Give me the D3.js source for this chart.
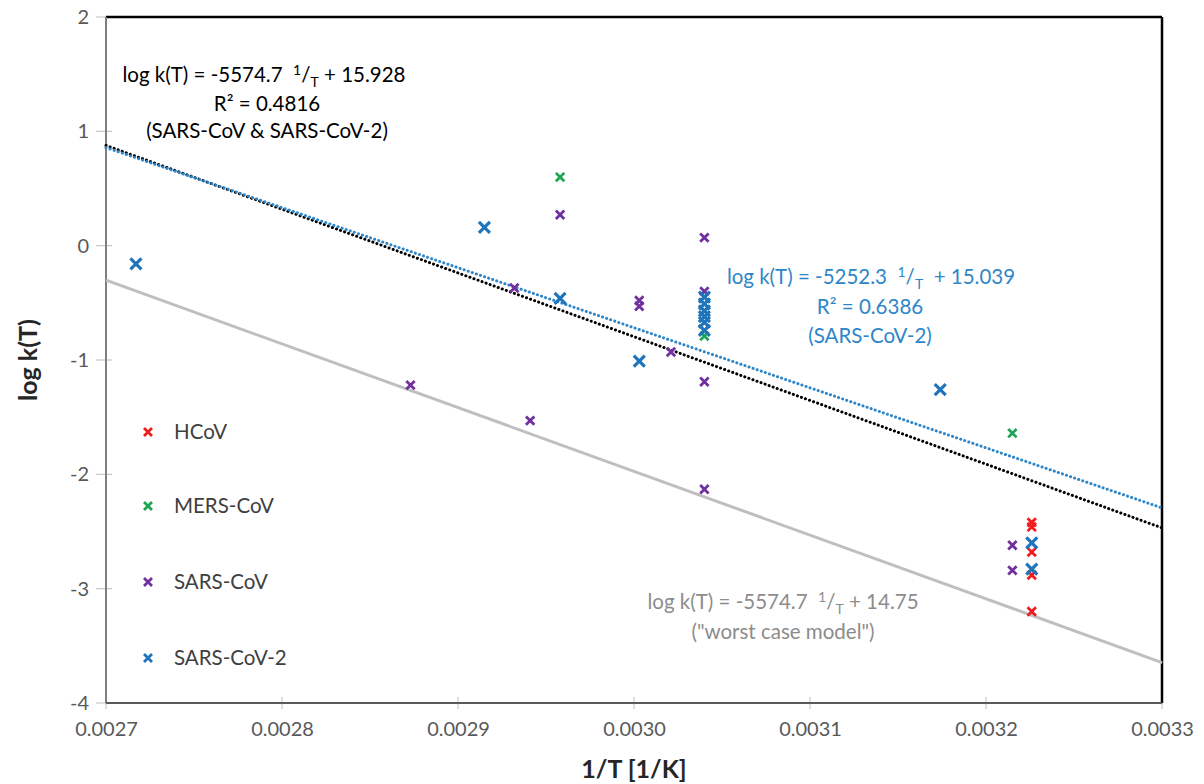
<!DOCTYPE html>
<html>
<head>
<meta charset="utf-8">
<script src="https://cdn.jsdelivr.net/npm/d3@7"></script>
<style>
  html, body { margin: 0; padding: 0; background: #fff; }
  svg { display: block; font-family: Lato, "Open Sans", sans-serif; }
</style>
</head>
<body>
<svg id="chart" width="1204" height="784"></svg>
<script>
// ---- data ----
const seriesNames = ["HCoV", "MERS-CoV", "SARS-CoV", "SARS-CoV-2"];
const seriesColors = ["#ee1c1c", "#1fa653", "#7030a0", "#1f74ba"];

const hcovX = [0.003226, 0.003226, 0.003226, 0.003226, 0.003226];
const hcovY = [-2.42, -2.46, -2.68, -2.88, -3.20];

const mersX = [0.002958, 0.003040, 0.003215];
const mersY = [0.60, -0.79, -1.64];

const sarsX = [0.002873, 0.002932, 0.002941, 0.002958, 0.003003, 0.003003, 0.003021, 0.003040, 0.003040, 0.003040, 0.003040, 0.003215, 0.003215];
const sarsY = [-1.22, -0.37, -1.53, 0.27, -0.48, -0.53, -0.93, 0.07, -0.40, -1.19, -2.13, -2.62, -2.84];

const sars2X = [0.002717, 0.002915, 0.002958, 0.003003, 0.003040, 0.003040, 0.003040, 0.003040, 0.003040, 0.003040, 0.003174, 0.003226, 0.003226];
const sars2Y = [-0.16, 0.16, -0.46, -1.01, -0.45, -0.51, -0.57, -0.62, -0.67, -0.74, -1.26, -2.60, -2.83];

const xTicks = [0.0027, 0.0028, 0.0029, 0.0030, 0.0031, 0.0032, 0.0033];
const yTicks = [2, 1, 0, -1, -2, -3, -4];

// trend lines: slope, intercept
const fitAll = { slope: -5574.7, intercept: 15.928 };
const fitSars2 = { slope: -5252.3, intercept: 15.039 };
const fitWorst = { slope: -5574.7, intercept: 14.75 };

// ---- drawing ----
const svg = d3.select("#chart");
const x = d3.scaleLinear().domain([0.0027, 0.0033]).range([106, 1162]);
const y = d3.scaleLinear().domain([-4, 2]).range([703, 17]);

// y axis
const yAxis = d3.axisLeft(y).tickValues(yTicks).tickSize(0).tickPadding(17).tickFormat(d => String(d));
const gy = svg.append("g").attr("transform", `translate(${x(0.0027)},0)`).call(yAxis);
gy.select(".domain").remove();
gy.selectAll("text").attr("font-size", 20).attr("fill", "#595959").attr("font-family", "Lato, sans-serif");
svg.append("g").selectAll("line").data(yTicks).join("line")
  .attr("x1", x(0.0027) - 10).attr("x2", x(0.0027) + 6)
  .attr("y1", d => y(d)).attr("y2", d => y(d))
  .attr("stroke", "#c8c8c8").attr("stroke-width", 1.2);

// x axis
const xAxis = d3.axisBottom(x).tickValues(xTicks).tickSize(0).tickPadding(19).tickFormat(d3.format(".4f"));
const gx = svg.append("g").attr("transform", `translate(0,${y(-4)})`).call(xAxis);
gx.select(".domain").remove();
gx.selectAll("text").attr("font-size", 20).attr("fill", "#595959").attr("font-family", "Lato, sans-serif");
svg.append("g").selectAll("line").data(xTicks).join("line")
  .attr("x1", d => x(d)).attr("x2", d => x(d))
  .attr("y1", y(-4) - 6).attr("y2", y(-4) + 6)
  .attr("stroke", "#c8c8c8").attr("stroke-width", 1.2);

// frame
svg.append("line").attr("x1", x(0.0027)).attr("x2", x(0.0033)).attr("y1", y(2)).attr("y2", y(2))
  .attr("stroke", "#000").attr("stroke-width", 2.5);
svg.append("line").attr("x1", x(0.0033)).attr("x2", x(0.0033)).attr("y1", y(2)).attr("y2", y(-4))
  .attr("stroke", "#000").attr("stroke-width", 2.5);
svg.append("line").attr("x1", x(0.0027)).attr("x2", x(0.0027)).attr("y1", y(2)).attr("y2", y(-4))
  .attr("stroke", "#7f7f7f").attr("stroke-width", 2);
svg.append("line").attr("x1", x(0.0027)).attr("x2", x(0.0033)).attr("y1", y(-4)).attr("y2", y(-4))
  .attr("stroke", "#595959").attr("stroke-width", 2);

// trend lines
function fitLine(f, attrs) {
  const xs = [0.0027, 0.0033];
  const line = svg.append("line")
    .attr("x1", x(xs[0])).attr("y1", y(f.slope * xs[0] + f.intercept))
    .attr("x2", x(xs[1])).attr("y2", y(f.slope * xs[1] + f.intercept));
  Object.entries(attrs).forEach(([k, v]) => line.attr(k, v));
}
fitLine(fitWorst, { stroke: "#bfbfbf", "stroke-width": 3 });
fitLine(fitAll, { stroke: "#000", "stroke-width": 3, "stroke-dasharray": "0.1 4.2", "stroke-linecap": "round" });
fitLine(fitSars2, { stroke: "#2e86c8", "stroke-width": 3, "stroke-dasharray": "0.1 4.2", "stroke-linecap": "round" });

// markers
function xMark(g, cx, cy, r, color, w) {
  g.append("path")
    .attr("d", `M${cx - r},${cy - r}L${cx + r},${cy + r}M${cx - r},${cy + r}L${cx + r},${cy - r}`)
    .attr("stroke", color).attr("stroke-width", w).attr("fill", "none");
}
const seriesData = [
  { xs: hcovX, ys: hcovY, r: 4.2, w: 2.8 },
  { xs: mersX, ys: mersY, r: 4.2, w: 2.8 },
  { xs: sarsX, ys: sarsY, r: 4.2, w: 2.8 },
  { xs: sars2X, ys: sars2Y, r: 5.5, w: 3.2 }
];
const gm = svg.append("g");
seriesData.forEach((s, i) => {
  s.xs.forEach((xv, j) => xMark(gm, x(xv), y(s.ys[j]), s.r, seriesColors[i], s.w));
});

// legend
const legendY = [432, 506, 582, 658];
seriesNames.forEach((n, i) => {
  xMark(svg, 148, legendY[i], 4, seriesColors[i], 2.8);
  svg.append("text").attr("x", 174).attr("y", legendY[i]).attr("dy", "0.35em")
    .attr("font-size", 20.5).attr("fill", "#404040").text(n);
});

// equation annotations
function equation(cx, cy, slope, intercept, color, extraSpace) {
  const t = svg.append("text").attr("x", cx).attr("y", cy).attr("dy", "0.35em")
    .attr("text-anchor", "middle").attr("font-size", 20.5).attr("fill", color)
    .attr("xml:space", "preserve");
  t.append("tspan").text(`log k(T) = ${slope}  `);
  t.append("tspan").attr("font-size", 14).attr("dy", -7).text("1");
  t.append("tspan").attr("dy", 7).text("/");
  t.append("tspan").attr("font-size", 14).attr("dy", 5).text("T");
  t.append("tspan").attr("dy", -5).text(`${extraSpace ? "  " : " "}+ ${intercept}`);
}
function line(cx, cy, txt, color) {
  svg.append("text").attr("x", cx).attr("y", cy).attr("dy", "0.35em")
    .attr("text-anchor", "middle").attr("font-size", 20.5).attr("fill", color).text(txt);
}
equation(264, 75, "-5574.7", "15.928", "#000", false);
line(267, 104, "R² = 0.4816", "#000");
line(267, 131, "(SARS-CoV & SARS-CoV-2)", "#000");

equation(871, 277, "-5252.3", "15.039", "#2e86c8", true);
line(870, 307, "R² = 0.6386", "#2e86c8");
line(870, 336, "(SARS-CoV-2)", "#2e86c8");

equation(783, 602, "-5574.7", "14.75", "#8c8c8c", false);
line(783, 632, "(\"worst case model\")", "#8c8c8c");

// axis titles
svg.append("text").attr("x", 634).attr("y", 769).attr("dy", "0.35em").attr("text-anchor", "middle")
  .attr("font-size", 25).attr("font-weight", "bold").attr("fill", "#262626").text("1/T [1/K]");
svg.append("text").attr("transform", "translate(28,360) rotate(-90)").attr("dy", "0.35em")
  .attr("text-anchor", "middle").attr("font-size", 25).attr("font-weight", "bold").attr("fill", "#262626")
  .text("log k(T)");
</script>
</body>
</html>
